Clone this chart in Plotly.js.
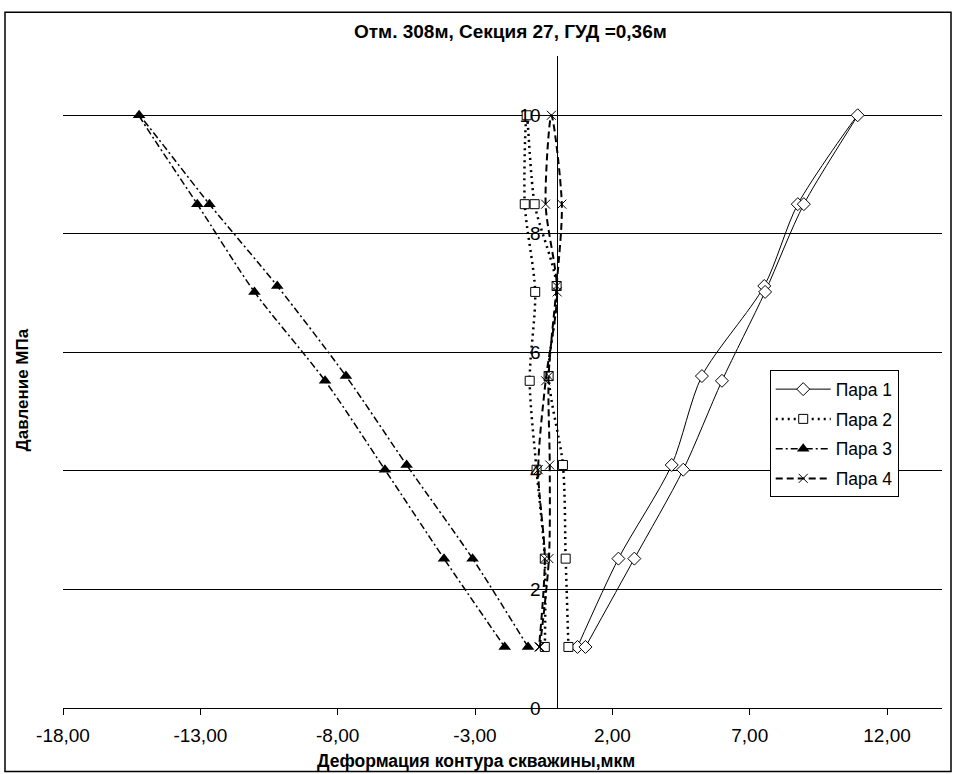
<!DOCTYPE html>
<html>
<head>
<meta charset="utf-8">
<script src="https://cdn.plot.ly/plotly-3.0.1.min.js"></script>
<style>html,body{margin:0;padding:0;background:#fff;}#chart{width:956px;height:774px;}</style>
</head>
<body>
<div id="chart"></div>
<script>
// Pressure (MPa): loading 1 -> 10, then unloading 10 -> 1
const pressure = [1.03, 2.52, 4.10, 5.60, 7.12, 8.50, 10.0, 8.50, 7.02, 5.52, 4.02, 2.52, 1.03];
// Deformation (мкм) for each pair
const pair1 = [0.73, 2.22, 4.16, 5.26, 7.53, 8.75, 10.93, 8.97, 7.56, 5.99, 4.58, 2.80, 1.02];
const pair2 = [0.40, 0.30, 0.20, -0.32, -0.03, -0.83, -1.12, -1.19, -0.81, -1.01, -0.76, -0.46, -0.46];
const pair3 = [-1.07, -3.09, -5.49, -7.70, -10.20, -12.67, -15.23, -13.11, -11.03, -8.46, -6.28, -4.13, -1.92];
const pair4 = [-0.64, -0.31, -0.28, -0.32, -0.03, 0.16, -0.22, -0.43, -0.01, -0.43, -0.70, -0.46, -0.67];
const seriesNames = ['Пара 1', 'Пара 2', 'Пара 3', 'Пара 4'];
const xTickVals = [-18, -13, -8, -3, 2, 7, 12];
const xTickText = ['-18,00', '-13,00', '-8,00', '-3,00', '2,00', '7,00', '12,00'];
const yTickVals = [0, 2, 4, 6, 8, 10];
const titleText = 'Отм. 308м, Секция 27, ГУД =0,36м';
const xTitle = 'Деформация контура скважины,мкм';
const yTitle = 'Давление МПа';

const FONT = 'Liberation Sans, Arial, sans-serif';
const traces = [
  {x: pair1, y: pressure, name: seriesNames[0], legendgroup: 'a', mode: 'lines+markers',
   line: {color: '#000', width: 1, shape: 'spline', smoothing: 0.8},
   marker: {symbol: 'diamond', size: 10, color: '#fff', line: {color: '#000', width: 1}}},
  {x: pair2, y: pressure, name: seriesNames[1], legendgroup: 'b', mode: 'lines+markers',
   line: {color: '#000', width: 2.5, dash: '2px,4px', shape: 'spline', smoothing: 0.8},
   marker: {symbol: 'square', size: 9, color: '#fff', line: {color: '#000', width: 1}}},
  {x: pair3, y: pressure, name: seriesNames[2], legendgroup: 'c', mode: 'lines+markers',
   line: {color: '#000', width: 1.5, dash: '7px,3px,2px,3px', shape: 'spline', smoothing: 0.8},
   marker: {symbol: 'triangle-up', size: 11, color: '#000', line: {color: '#000', width: 0}}},
  {x: pair4, y: pressure, name: seriesNames[3], legendgroup: 'd', mode: 'lines+markers',
   line: {color: '#000', width: 2, dash: '7px,4px', shape: 'spline', smoothing: 0.8},
   marker: {symbol: 'x-thin', size: 9, color: '#000', line: {color: '#000', width: 1}}}
];

const layout = {
  width: 956, height: 774,
  margin: {l: 63, r: 14, t: 56, b: 66, pad: 0},
  paper_bgcolor: '#fff', plot_bgcolor: '#fff',
  font: {family: FONT, color: '#000', size: 18},
  showlegend: true,
  legend: {x: 0.804, y: 0.518, xanchor: 'left', yanchor: 'top',
    bordercolor: '#000', borderwidth: 1, bgcolor: '#fff',
    font: {family: FONT, size: 17.5, color: '#000'},
    tracegroupgap: 4, itemwidth: 55, traceorder: 'grouped'},
  xaxis: {range: [-18, 14], showgrid: false, zeroline: false, showline: true, linecolor: '#000', linewidth: 1,
    ticks: 'outside', ticklen: 6, tickcolor: '#000', tickvals: xTickVals, ticktext: xTickText,
    ticklabelstandoff: 4,
    tickfont: {family: FONT, size: 19, color: '#000'}, fixedrange: true},
  yaxis: {range: [0, 11], anchor: 'free', position: 18 / 32, showgrid: true, gridcolor: '#000', gridwidth: 1,
    zeroline: false, showline: true, linecolor: '#000', linewidth: 1,
    ticks: 'outside', ticklen: 5, tickcolor: '#000', tickvals: yTickVals,
    ticklabelstandoff: 8,
    tickfont: {family: FONT, size: 19, color: '#000'}, fixedrange: true},
  annotations: [
    {text: '<b>' + titleText + '</b>', xref: 'paper', yref: 'paper', x: (510 - 63) / 879, y: (707.5 - 31) / 651.75,
     xanchor: 'center', yanchor: 'middle', showarrow: false, font: {family: FONT, size: 19}},
    {text: '<b>' + xTitle + '</b>', xref: 'paper', yref: 'paper', x: (476 - 63) / 879, y: (707.5 - 760) / 651.75,
     xanchor: 'center', yanchor: 'middle', showarrow: false, font: {family: FONT, size: 17.5}},
    {text: '<b>' + yTitle + '</b>', xref: 'paper', yref: 'paper', x: (22 - 63) / 879, y: (707.5 - 390) / 651.75,
     xanchor: 'center', yanchor: 'middle', textangle: -90, showarrow: false, font: {family: FONT, size: 17}}
  ],
  shapes: [
    {type: 'rect', xref: 'paper', yref: 'paper', x0: (5 - 63) / 879, x1: (951 - 63) / 879,
     y0: (707.5 - 771) / 651.75, y1: (707.5 - 12) / 651.75, line: {color: '#000', width: 1.5}, layer: 'below'}
  ]
};
Plotly.newPlot('chart', traces, layout, {displayModeBar: false, staticPlot: true});
</script>
</body>
</html>
